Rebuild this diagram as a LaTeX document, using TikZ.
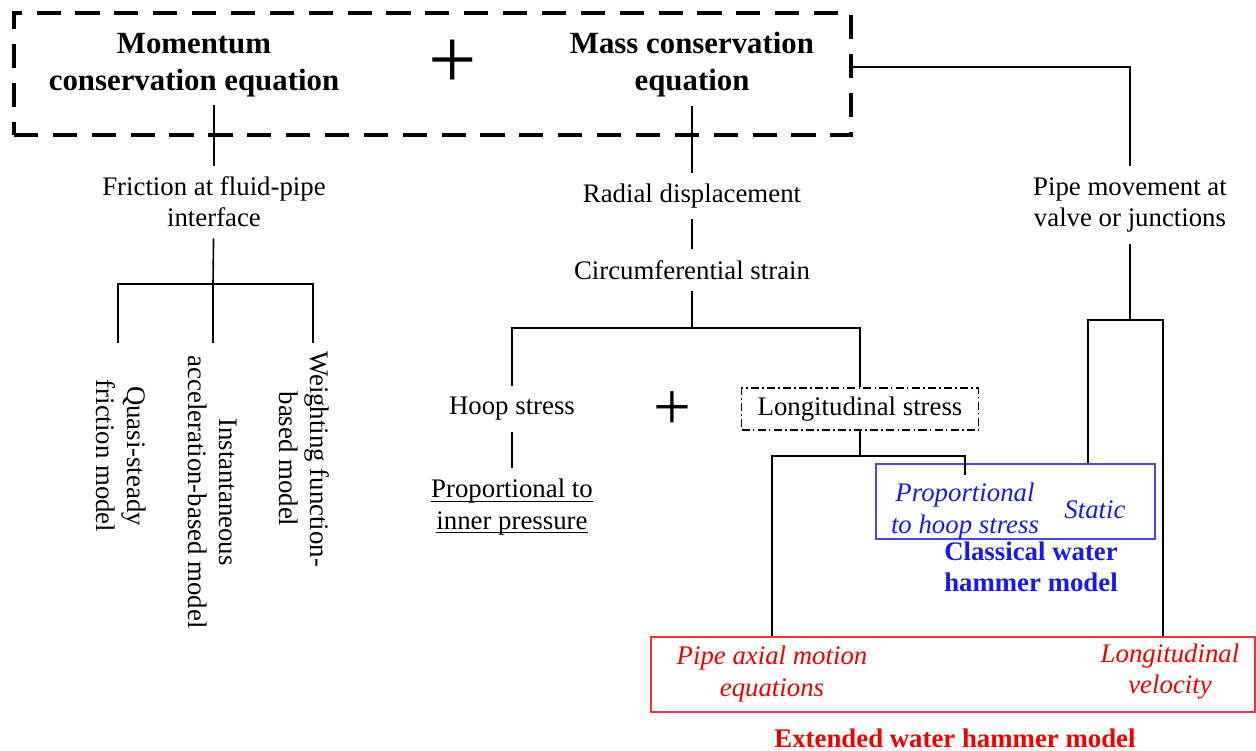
\documentclass[tikz,border=0pt]{standalone}
\usepackage{fontspec}
\setmainfont{Liberation Serif}
\usetikzlibrary{positioning}
\definecolor{myblue}{RGB}{25,25,235}
\definecolor{myred}{RGB}{240,0,0}
\newcommand{\undl}[1]{\underline{\smash{#1}}\vphantom{#1}}

\begin{document}
\begin{tikzpicture}[x=0.373pt,y=-0.373pt,
  txt/.style={align=center,font=\fontsize{10}{11.6}\selectfont,inner sep=4pt},
  ttl/.style={align=center,font=\fontsize{11.5}{13.8}\selectfont\bfseries,inner sep=3pt},
  rot/.style={txt,rotate=-90},
  link/.style={line width=0.6pt}]
\useasboundingbox (0,0) rectangle (1256,750);

% equations
\node[draw,line width=1.5pt,dash pattern=on 9pt off 5.5pt,minimum width=312.2pt,minimum height=45.5pt] (eqbox) at (432.5,74) {};
\node[ttl] (mom) at (194,65) {Momentum\\conservation equation};
\node[font=\fontsize{32}{32}\selectfont,inner sep=0pt] (plusa) at (453,64) {+};
\node[ttl] (mass) at (692,65) {Mass conservation\\equation};

% momentum branch
\node[txt] (fric) at (214,202) {Friction at fluid-pipe\\interface};
\coordinate (fbus) at (213,284);
\coordinate (qtop) at (118,343);
\coordinate (itop) at (213,343);
\coordinate (wtop) at (313,343);
\node[rot] (quasi) at (121,456) {Quasi-steady\\friction model};
\node[rot] (inst) at (213,492) {Instantaneous\\acceleration-based model};
\node[rot] (weight) at (304,459) {Weighting function-\\based model};
\draw[link] (fric) -- (fric |- mom.south);
\draw[link] (fric) -- (fbus);
\draw[link] (qtop) |- (fbus) -| (wtop);
\draw[link] (fbus) -- (itop);

% mass branch
\node[txt] (rad) at (692,196) {Radial displacement};
\node[txt] (circ) at (692,270) {Circumferential strain};
\coordinate (cbus) at (692,328);
\node[txt] (hoop) at (512,409) {Hoop stress};
\node[font=\fontsize{25}{25}\selectfont,inner sep=0pt] (plusb) at (672,411) {+};
\node[txt,draw,line width=0.6pt,dash pattern=on 3pt off 1.2pt on 0.6pt off 1.2pt,inner xsep=6pt,inner ysep=3.3pt] (long) at (860,409) {Longitudinal stress};
\node[txt] (prop) at (512,507) {\undl{Proportional to}\\\undl{inner pressure}};
\coordinate (lbus) at (860,456);
\draw[link] (rad) -- (rad |- mass.south);
\draw[link] (rad) -- (circ);
\draw[link] (circ) -- (cbus);
\draw[link] (hoop) |- (cbus) -| (long);
\draw[link] (hoop) -- (prop);

% models
\node[draw=myblue!80,line width=0.6pt,minimum width=104.1pt,minimum height=28pt] (cls) at (1015.5,501.5) {};
\node[txt,myblue,font=\fontsize{10}{11.6}\selectfont\itshape,inner sep=3pt] (proph) at (965,511) {Proportional\\to hoop stress};
\node[txt,myblue,font=\fontsize{10}{11.6}\selectfont\itshape] (static) at (1095,510) {Static};
\node[txt,myblue,font=\fontsize{10}{11.6}\selectfont\bfseries] (clsl) at (1031,567) {Classical water\\hammer model};
\node[draw=myred!80,line width=0.6pt,minimum width=225.3pt,minimum height=28pt] (ext) at (953,674.5) {};
\node[txt,myred,font=\fontsize{10}{11.6}\selectfont\itshape] (pam) at (772,674) {Pipe axial motion\\equations};
\node[txt,myred,font=\fontsize{10}{11.6}\selectfont\itshape] (lvel) at (1170,672) {Longitudinal\\velocity};
\node[txt,myred,font=\fontsize{10}{11.6}\selectfont\bfseries] (extl) at (955,738) {Extended water hammer model};
\draw[link] (long) -- (lbus);
\draw[link] (proph) |- (lbus) -| (pam |- ext.north);

% pipe movement branch
\node[txt] (pmov) at (1130,205) {Pipe movement at\\valve or junctions};
\coordinate (pbus) at (1130,320);
\coordinate (pbl) at (1088,320);
\coordinate (pbr) at (1163,320);
\draw[link] ([yshift=2.6pt]eqbox.east) -| (pmov);
\draw[link] (pmov) -- (pbus);
\draw[link] (pbl |- cls.north) -- (pbl) -- (pbr) -- (pbr |- ext.north);
\end{tikzpicture}
\end{document}
